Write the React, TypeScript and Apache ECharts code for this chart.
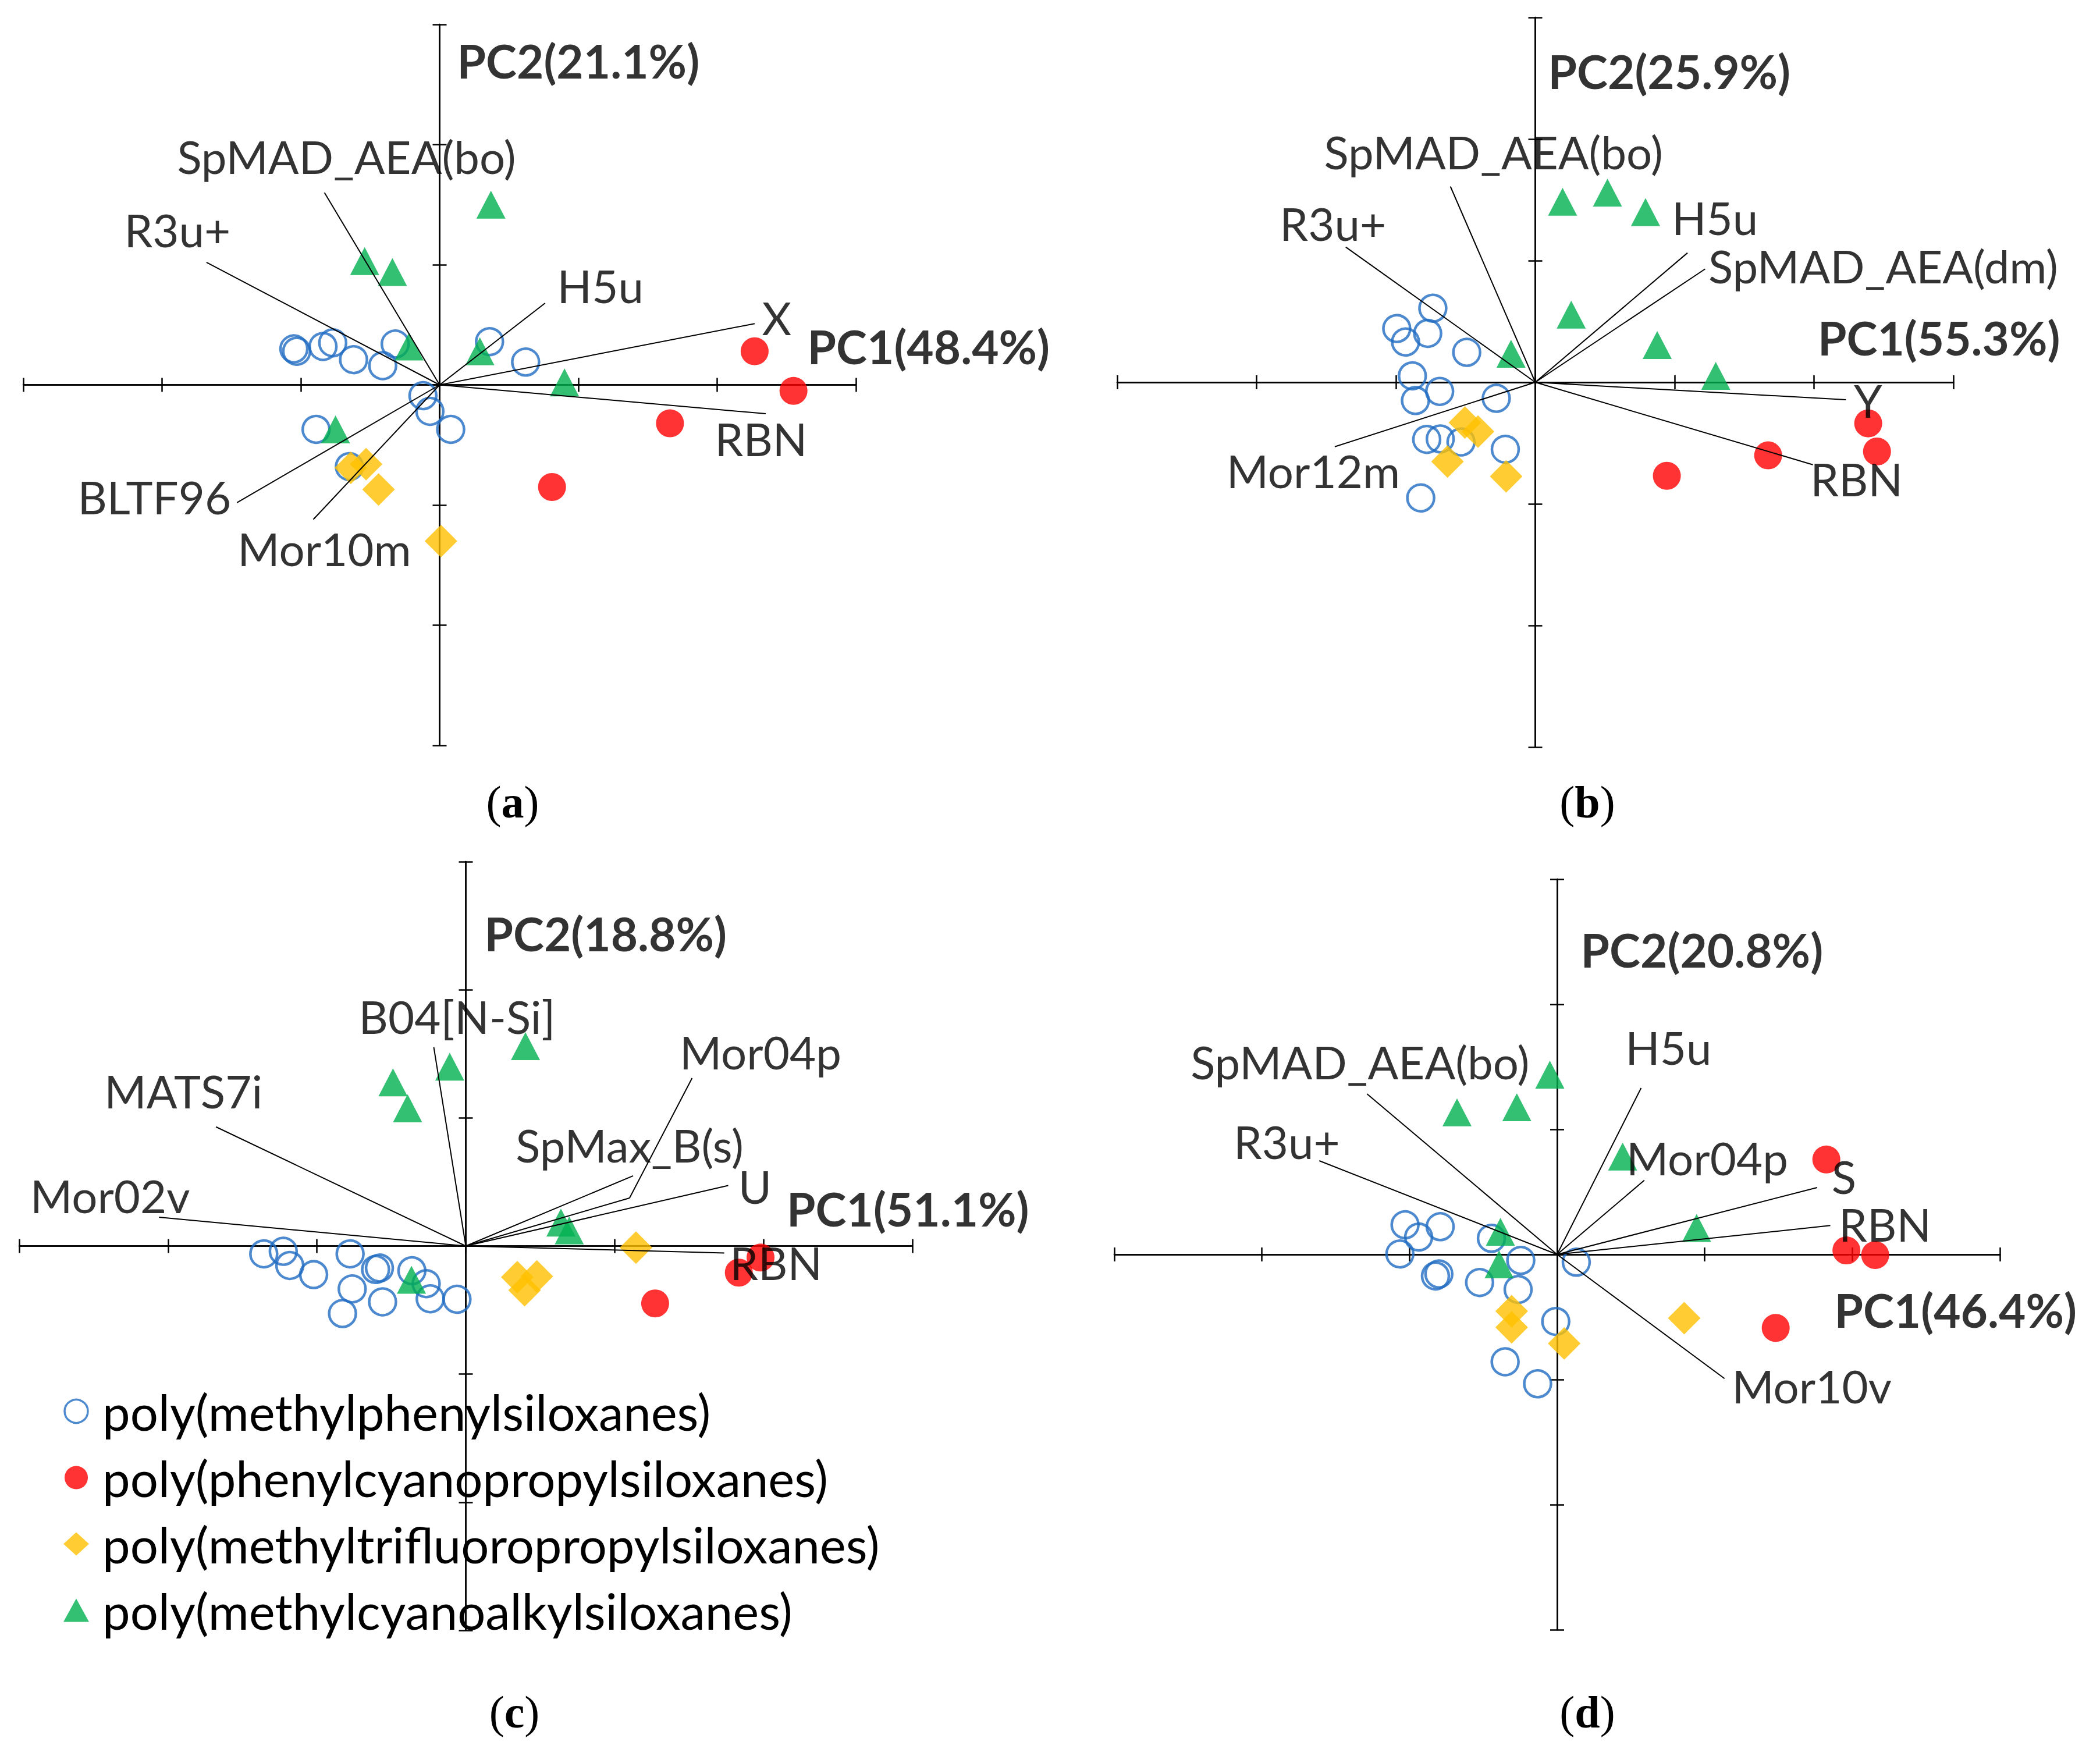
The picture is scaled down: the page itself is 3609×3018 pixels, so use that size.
import React, { useEffect, useRef } from 'react';
import * as echarts from 'echarts';

// ---------------- DATA ----------------
const CLASS_NAMES = [
  'poly(methylphenylsiloxanes)',
  'poly(phenylcyanopropylsiloxanes)',
  'poly(methyltrifluoropropylsiloxanes)',
  'poly(methylcyanoalkylsiloxanes)',
];
const PANEL_TAGS = ['a', 'b', 'c', 'd'];
const AXIS_MIN = -3;
const AXIS_MAX = 3;
const AXIS_STEP = 1;

// panel (a)
const A_PC1 = 'PC1(48.4%)';
const A_PC2 = 'PC2(21.1%)';
const A_PHENYL = [[-1.05, 0.3], [-1.03, 0.28], [-0.84, 0.32], [-0.77, 0.35], [-0.62, 0.21], [-0.41, 0.16], [-0.32, 0.34], [-0.12, -0.09], [-0.07, -0.22], [0.08, -0.37], [-0.89, -0.37], [0.36, 0.36], [0.62, 0.19], [-0.65, -0.68]];
const A_CYANOPROPYL = [[2.27, 0.28], [2.55, -0.05], [1.66, -0.32], [0.81, -0.85]];
const A_TRIFLUORO = [[-0.64, -0.69], [-0.53, -0.66], [-0.44, -0.87], [0.01, -1.3]];
const A_CYANOALKYL = [[0.37, 1.5], [-0.54, 1.03], [-0.34, 0.94], [-0.22, 0.32], [0.29, 0.28], [0.9, 0.02], [-0.75, -0.37]];
const A_LOAD_NAMES = ['SpMAD_AEA(bo)', 'R3u+', 'H5u', 'X', 'RBN', 'BLTF96', 'Mor10m'];
const A_LOAD_XY = [[-0.83, 1.6], [-1.68, 1.02], [0.76, 0.68], [2.27, 0.51], [2.35, -0.24], [-1.46, -0.98], [-0.91, -1.12]];

// panel (b)
const B_PC1 = 'PC1(55.3%)';
const B_PC2 = 'PC2(25.9%)';
const B_PHENYL = [[-0.735, 0.609], [-0.994, 0.442], [-0.931, 0.331], [-0.772, 0.402], [-0.492, 0.246], [-0.882, 0.053], [-0.686, -0.075], [-0.86, -0.15], [-0.28, -0.132], [-0.779, -0.47], [-0.682, -0.466], [-0.533, -0.491], [-0.215, -0.551], [-0.822, -0.951]];
const B_CYANOPROPYL = [[0.944, -0.769], [1.671, -0.601], [2.389, -0.338], [2.452, -0.569]];
const B_TRIFLUORO = [[-0.505, -0.331], [-0.411, -0.406], [-0.63, -0.652], [-0.209, -0.774]];
const B_CYANOALKYL = [[0.196, 1.485], [0.518, 1.56], [0.791, 1.4], [0.258, 0.556], [-0.174, 0.235], [0.875, 0.306], [1.295, 0.053]];
const B_LOAD_NAMES = ['SpMAD_AEA(bo)', 'R3u+', 'H5u', 'SpMAD_AEA(dm)', 'Y', 'RBN', 'Mor12m'];
const B_LOAD_XY = [[-0.609, 1.61], [-1.36, 1.112], [1.092, 1.064], [1.219, 0.932], [2.229, -0.144], [1.992, -0.678], [-1.439, -0.53]];

// panel (c)
const C_PC1 = 'PC1(51.1%)';
const C_PC2 = 'PC2(18.8%)';
const C_PHENYL = [[-1.357, -0.061], [-1.226, -0.041], [-1.182, -0.152], [-1.022, -0.223], [-0.777, -0.061], [-0.606, -0.183], [-0.58, -0.172], [-0.763, -0.335], [-0.828, -0.527], [-0.559, -0.436], [-0.362, -0.193], [-0.266, -0.294], [-0.239, -0.412], [-0.059, -0.416]];
const C_CYANOPROPYL = [[1.834, -0.208], [1.98, -0.09], [1.272, -0.448]];
const C_TRIFLUORO = [[0.346, -0.243], [0.477, -0.237], [0.395, -0.345], [1.143, -0.013]];
const C_CYANOALKYL = [[-0.108, 1.4], [-0.489, 1.278], [-0.391, 1.075], [0.401, 1.56], [0.639, 0.183], [0.695, 0.122], [-0.365, -0.264]];
const C_LOAD_NAMES = ['Mor02v', 'MATS7i', 'B04[N-Si]', 'SpMax_B(s)', 'Mor04p', 'U', 'RBN'];
const C_LOAD_XY = [[-2.061, 0.225], [-1.678, 0.93], [-0.215, 1.552], [1.124, 0.548], [1.1, 0.375], [1.763, 0.472], [1.736, -0.054]];

// panel (d)
const D_PC1 = 'PC1(46.4%)';
const D_PC2 = 'PC2(20.8%)';
const D_PHENYL = [[-1.03, 0.237], [-0.938, 0.139], [-0.792, 0.222], [-1.065, 0.004], [-0.824, -0.172], [-0.801, -0.156], [-0.525, -0.224], [-0.445, 0.129], [-0.246, -0.048], [-0.264, -0.28], [-0.009, -0.536], [-0.352, -0.858], [-0.132, -1.034], [0.13, -0.062]];
const D_CYANOPROPYL = [[1.824, 0.759], [1.96, 0.032], [2.155, -0.005], [1.481, -0.587]];
const D_TRIFLUORO = [[-0.308, -0.453], [-0.308, -0.583], [0.048, -0.712], [0.861, -0.509]];
const D_CYANOALKYL = [[-0.049, 1.437], [-0.678, 1.136], [-0.273, 1.177], [0.444, 0.783], [-0.384, 0.181], [-0.393, -0.079], [0.945, 0.212]];
const D_LOAD_NAMES = ['SpMAD_AEA(bo)', 'R3u+', 'H5u', 'Mor04p', 'S', 'RBN', 'Mor10v'];
const D_LOAD_XY = [[-1.288, 1.284], [-1.611, 0.749], [0.569, 1.33], [0.591, 0.593], [1.762, 0.535], [1.851, 0.231], [1.134, -0.992]];

// ---------------- LAYOUT / STYLE ----------------
const BLUE = '#1f6cc2';
const RED = '#ff0000';
const YELLOW = '#ffc000';
const GREEN = '#00b050';
const FONT = 'Lato';
const LABEL_SIZE = 78;
const LEGEND_SIZE = 85;
const TITLE_SIZE = 80;

const PANELS = [
  {
    grid: { left: 40, top: 42, width: 1431, height: 1239 },
    pc1: A_PC1, pc2: A_PC2,
    groups: [A_PHENYL, A_CYANOPROPYL, A_TRIFLUORO, A_CYANOALKYL],
    loadNames: A_LOAD_NAMES, loadXY: A_LOAD_XY,
    labelOffsets: [[38, -62], [-50, -56], [95, -30], [38, -10], [-8, 43], [-142, -10], [19, 50]],
    pc1At: [2.648, 0.322], pc2At: [0.124, 2.7],
    leaders: [],
    tagAt: [881, 1378],
  },
  {
    grid: { left: 1920, top: 30, width: 1437, height: 1254 },
    pc1: B_PC1, pc2: B_PC2,
    groups: [B_PHENYL, B_CYANOPROPYL, B_TRIFLUORO, B_CYANOALKYL],
    loadNames: B_LOAD_NAMES, loadXY: B_LOAD_XY,
    labelOffsets: [[74, -60], [-22, -41], [47, -61], [306, -5], [38, 1], [75, 24], [-37, 41]],
    pc1At: [2.025, 0.368], pc2At: [0.09, 2.56],
    leaders: [],
    tagAt: [2728, 1378],
  },
  {
    grid: { left: 33, top: 1481, width: 1535, height: 1321 },
    pc1: C_PC1, pc2: C_PC2,
    groups: [C_PHENYL, C_CYANOPROPYL, C_TRIFLUORO, C_CYANOALKYL],
    loadNames: C_LOAD_NAMES, loadXY: C_LOAD_XY,
    labelOffsets: [[-84, -37], [-56, -62], [40, -53], [-6, -53], [225, -251], [46, 1], [89, 17]],
    pc1At: [2.154, 0.293], pc2At: [0.123, 2.44],
    leaders: [{ from: 4, to: [1.52, 1.31] }],
    tagAt: [884, 2942],
  },
  {
    grid: { left: 1915, top: 1511, width: 1522, height: 1290 },
    pc1: D_PC1, pc2: D_PC2,
    groups: [D_PHENYL, D_CYANOPROPYL, D_TRIFLUORO, D_CYANOALKYL],
    loadNames: D_LOAD_NAMES, loadXY: D_LOAD_XY,
    labelOffsets: [[-12, -55], [-56, -33], [47, -70], [108, -39], [46, -19], [94, -2], [150, 13]],
    pc1At: [1.876, -0.442], pc2At: [0.158, 2.437],
    leaders: [],
    tagAt: [2728, 2942],
  },
];

const GROUP_STYLES = [
  { symbol: 'circle', symbolSize: 46, itemStyle: { color: 'rgba(255,255,255,0)', borderColor: BLUE, borderWidth: 4.5 } },
  { symbol: 'circle', symbolSize: 48, itemStyle: { color: RED } },
  { symbol: 'diamond', symbolSize: [56, 56], itemStyle: { color: YELLOW } },
  { symbol: 'triangle', symbolSize: [50, 48], itemStyle: { color: GREEN } },
];

function axisPair(dim: 'x' | 'y', gridIndex: number, otherIndex: number) {
  const positions = dim === 'x' ? ['bottom', 'top'] : ['left', 'right'];
  return positions.map((position) => ({
    type: 'value',
    gridIndex,
    position,
    min: AXIS_MIN,
    max: AXIS_MAX,
    interval: AXIS_STEP,
    axisLine: { show: true, onZero: true, onZeroAxisIndex: otherIndex, lineStyle: { color: '#000', width: 2.5 } },
    axisTick: { show: true, inside: false, length: 12, lineStyle: { color: '#000', width: 2.5 } },
    axisLabel: { show: false },
    splitLine: { show: false },
  }));
}

const HIDDEN = 'rgba(0,0,0,0)';

function buildOption() {
  const grid: any[] = [];
  const xAxis: any[] = [];
  const yAxis: any[] = [];
  const series: any[] = [];
  const graphic: any[] = [];

  PANELS.forEach((p, i) => {
    grid.push({ ...p.grid, containLabel: false });
    xAxis.push(...axisPair('x', i, 2 * i));
    yAxis.push(...axisPair('y', i, 2 * i));
    const axes = { xAxisIndex: 2 * i, yAxisIndex: 2 * i };

    p.groups.forEach((pts, g) => {
      series.push({
        type: 'scatter',
        name: CLASS_NAMES[g],
        ...axes,
        ...GROUP_STYLES[g],
        data: pts,
        z: 2,
        emphasis: { disabled: true },
      });
    });

    const lineData: any[] = p.loadXY.map((xy) => ({ coords: [[0, 0], xy] }));
    p.leaders.forEach((l: any) => lineData.push({ coords: [p.loadXY[l.from], l.to] }));
    series.push({
      type: 'lines',
      name: 'loadings',
      coordinateSystem: 'cartesian2d',
      ...axes,
      polyline: false,
      silent: true,
      z: 3,
      lineStyle: { color: '#000', width: 2, opacity: 1 },
      data: lineData,
    });

    series.push({
      type: 'scatter',
      name: 'loading labels',
      ...axes,
      symbolSize: 1,
      silent: true,
      z: 4,
      itemStyle: { color: HIDDEN },
      emphasis: { disabled: true },
      label: {
        show: true,
        position: 'inside',
        formatter: '{b}',
        fontFamily: FONT,
        fontSize: LABEL_SIZE,
        color: '#000',
        align: 'center',
        verticalAlign: 'middle',
      },
      data: p.loadXY.map((xy, k) => ({
        name: p.loadNames[k],
        value: xy,
        label: { offset: p.labelOffsets[k] },
      })),
    });

    series.push({
      type: 'scatter',
      name: 'axis titles',
      ...axes,
      symbolSize: 1,
      silent: true,
      z: 4,
      itemStyle: { color: HIDDEN },
      emphasis: { disabled: true },
      label: {
        show: true,
        position: 'right',
        distance: 0,
        formatter: '{b}',
        fontFamily: FONT,
        fontWeight: 'bold',
        fontSize: TITLE_SIZE,
        color: '#000',
      },
      data: [
        { name: p.pc1, value: p.pc1At },
        { name: p.pc2, value: p.pc2At },
      ],
    });

    graphic.push({
      type: 'text',
      x: p.tagAt[0],
      y: p.tagAt[1],
      style: {
        text: `{p|(}{b|${PANEL_TAGS[i]}}{p|)}`,
        align: 'center',
        verticalAlign: 'middle',
        rich: {
          p: { fontFamily: 'Liberation Serif', fontSize: 78, fill: '#000' },
          b: { fontFamily: 'Liberation Serif', fontSize: 78, fontWeight: 'bold', fill: '#000' },
        },
      },
    });
  });

  const legendData = [
    { name: CLASS_NAMES[0], icon: 'circle', itemStyle: { color: HIDDEN, borderColor: BLUE, borderWidth: 3.5 } },
    { name: CLASS_NAMES[1], icon: 'circle', itemStyle: { color: RED, borderWidth: 0 } },
    { name: CLASS_NAMES[2], icon: 'diamond', itemStyle: { color: YELLOW, borderWidth: 0 } },
    { name: CLASS_NAMES[3], icon: 'triangle', itemStyle: { color: GREEN, borderWidth: 0 } },
  ];

  return {
    animation: false,
    backgroundColor: '#fff',
    grid,
    xAxis,
    yAxis,
    series,
    graphic,
    legend: {
      data: legendData,
      orient: 'vertical',
      left: 104,
      top: 2378,
      itemWidth: 44,
      itemHeight: 40,
      itemGap: 29,
      selectedMode: false,
      textStyle: {
        fontFamily: FONT,
        fontSize: LEGEND_SIZE,
        color: '#000',
        lineHeight: 70,
        padding: [0, 0, 0, 18],
      },
    },
  };
}

export default function App() {
  const ref = useRef<HTMLDivElement>(null);
  useEffect(() => {
    document.body.style.margin = '0';
    document.body.style.overflow = 'hidden';
    if (!ref.current) return;
    const chart = echarts.init(ref.current, undefined, { renderer: 'svg' });
    chart.setOption(buildOption() as any);
    return () => chart.dispose();
  }, []);
  return <div ref={ref} style={{ width: 3609, height: 3018, background: '#fff' }} />;
}
